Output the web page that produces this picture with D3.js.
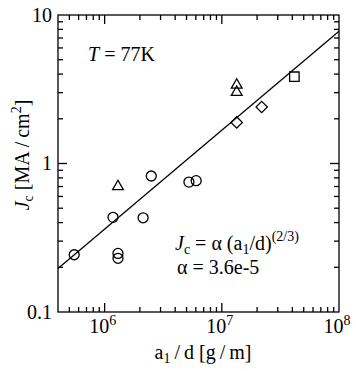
<!DOCTYPE html>
<html><head><meta charset="utf-8">
<script src="https://cdn.jsdelivr.net/npm/d3@7"></script>
<style>
html,body{margin:0;padding:0;background:#fff;}
svg{display:block;}
</style></head>
<body>
<svg id="c" width="356" height="371"></svg>
<script>
// ---- data ----
const circleX = [5.5e5, 1.18e6, 1.30e6, 1.30e6, 2.13e6, 2.50e6, 5.24e6, 6.04e6];
const circleY = [0.243, 0.434, 0.248, 0.230, 0.431, 0.824, 0.750, 0.766];
const triangleX = [1.30e6, 1.34e7, 1.34e7];
const triangleY = [0.70, 3.38, 3.02];
const diamondX = [1.34e7, 2.19e7];
const diamondY = [1.89, 2.40];
const squareX = [4.16e7];
const squareY = [3.84];
const fitX = [4e5, 1e8];
const fitY = [0.196, 7.76];
const xMajor = [1e6, 1e7, 1e8];
const xMajorExp = ["6", "7", "8"];
const yMajor = [0.1, 1, 10];
const yMajorLabels = ["0.1", "1", "10"];
const xDomain = [4e5, 1e8];
const yDomain = [0.1, 10];

// ---- layout ----
const FONT = "Liberation Serif";
const L = 58, R = 339, T = 15, B = 312;
const svg = d3.select("#c");
const x = d3.scaleLog().domain(xDomain).range([L, R]);
const y = d3.scaleLog().domain(yDomain).range([B, T]);

function minors(dom) {
  const out = [];
  for (let e = Math.floor(Math.log10(dom[0])); e <= Math.ceil(Math.log10(dom[1])); e++) {
    for (let m = 2; m <= 9; m++) {
      const v = m * Math.pow(10, e);
      if (v > dom[0] && v < dom[1]) out.push(v);
    }
  }
  return out;
}
const xMinor = minors(xDomain), yMinor = minors(yDomain);
const MAJ = 9, MIN = 5, SW = 1.3;

const g = svg.append("g").attr("stroke", "#000").attr("stroke-width", SW).attr("fill", "none");
g.append("rect").attr("x", L).attr("y", T).attr("width", R - L).attr("height", B - T);

function xticks(vals, len) {
  vals.forEach(v => {
    const px = x(v);
    g.append("line").attr("x1", px).attr("x2", px).attr("y1", B).attr("y2", B - len);
    g.append("line").attr("x1", px).attr("x2", px).attr("y1", T).attr("y2", T + len);
  });
}
function yticks(vals, len) {
  vals.forEach(v => {
    const py = y(v);
    g.append("line").attr("x1", L).attr("x2", L + len).attr("y1", py).attr("y2", py);
    g.append("line").attr("x1", R).attr("x2", R - len).attr("y1", py).attr("y2", py);
  });
}
xticks(xMinor, MIN); xticks(xMajor.filter(v => v < xDomain[1]), MAJ);
yticks(yMinor, MIN); yticks(yMajor.filter(v => v > yDomain[0] && v < yDomain[1]), MAJ);

function txt(sel) { return sel.append("text").attr("font-family", FONT).attr("fill", "#000"); }

const FS = 20;
xMajor.forEach((v, i) => {
  const t = txt(svg).attr("x", x(v) - 2).attr("y", 333)
    .attr("text-anchor", "middle").attr("font-size", FS);
  t.append("tspan").text("10");
  t.append("tspan").attr("dy", -8).attr("font-size", 14).text(xMajorExp[i]);
});
yMajor.forEach((v, i) => {
  txt(svg).attr("x", 52).attr("y", y(v)).attr("dy", "0.34em")
    .attr("text-anchor", "end").attr("font-size", FS).text(yMajorLabels[i]);
});

const xt = txt(svg).attr("x", 203).attr("y", 359).attr("text-anchor", "middle").attr("font-size", 20);
xt.append("tspan").text("a");
xt.append("tspan").attr("dy", 4).attr("font-size", 14).text("1");
xt.append("tspan").attr("dy", -4).text("\u2009/\u2009d [g\u2009/\u2009m]");

const yt = txt(svg).attr("transform", "translate(29,155) rotate(-90)")
  .attr("text-anchor", "middle").attr("font-size", 20);
yt.append("tspan").attr("font-style", "italic").text("J");
yt.append("tspan").attr("dy", 4).attr("font-size", 14).text("c");
yt.append("tspan").attr("dy", -4).text(" [MA\u2009/\u2009cm");
yt.append("tspan").attr("dy", -8).attr("font-size", 14).text("2");
yt.append("tspan").attr("dy", 8).text("]");

// fit line
const line = d3.line().x(d => x(d[0])).y(d => y(d[1]));
g.append("path").attr("d", line(d3.zip(fitX, fitY)));

// markers
const sym = (type, size) => d3.symbol().type(type).size(size)();
const mk = svg.append("g").attr("stroke", "#000").attr("stroke-width", SW).attr("fill", "none");
mk.selectAll(".c").data(d3.zip(circleX, circleY)).join("circle")
  .attr("cx", d => x(d[0])).attr("cy", d => y(d[1])).attr("r", 5);
mk.selectAll(".t").data(d3.zip(triangleX, triangleY)).join("path")
  .attr("transform", d => `translate(${x(d[0])},${y(d[1])})`)
  .attr("d", sym(d3.symbolTriangle, 50));
mk.selectAll(".d").data(d3.zip(diamondX, diamondY)).join("path")
  .attr("transform", d => `translate(${x(d[0])},${y(d[1])}) rotate(45)`)
  .attr("d", sym(d3.symbolSquare, 64));
mk.selectAll(".s").data(d3.zip(squareX, squareY)).join("path")
  .attr("transform", d => `translate(${x(d[0])},${y(d[1])})`)
  .attr("d", sym(d3.symbolSquare, 90));

// annotations
const t1 = txt(svg).attr("x", 88).attr("y", 61).attr("font-size", 20);
t1.append("tspan").attr("font-style", "italic").text("T");
t1.append("tspan").text(" = 77K");

const t2 = txt(svg).attr("x", 175).attr("y", 250).attr("font-size", 20);
t2.append("tspan").attr("font-style", "italic").text("J");
t2.append("tspan").attr("dy", 4).attr("font-size", 14).text("c");
t2.append("tspan").attr("dy", -4).text(" = \u03b1 (a");
t2.append("tspan").attr("dy", 4).attr("font-size", 14).text("1");
t2.append("tspan").attr("dy", -4).text("/d)");
t2.append("tspan").attr("dy", -9).attr("font-size", 14).text("(2/3)");

txt(svg).attr("x", 177).attr("y", 274).attr("font-size", 20).text("\u03b1 = 3.6e-5");
</script>
</body></html>
